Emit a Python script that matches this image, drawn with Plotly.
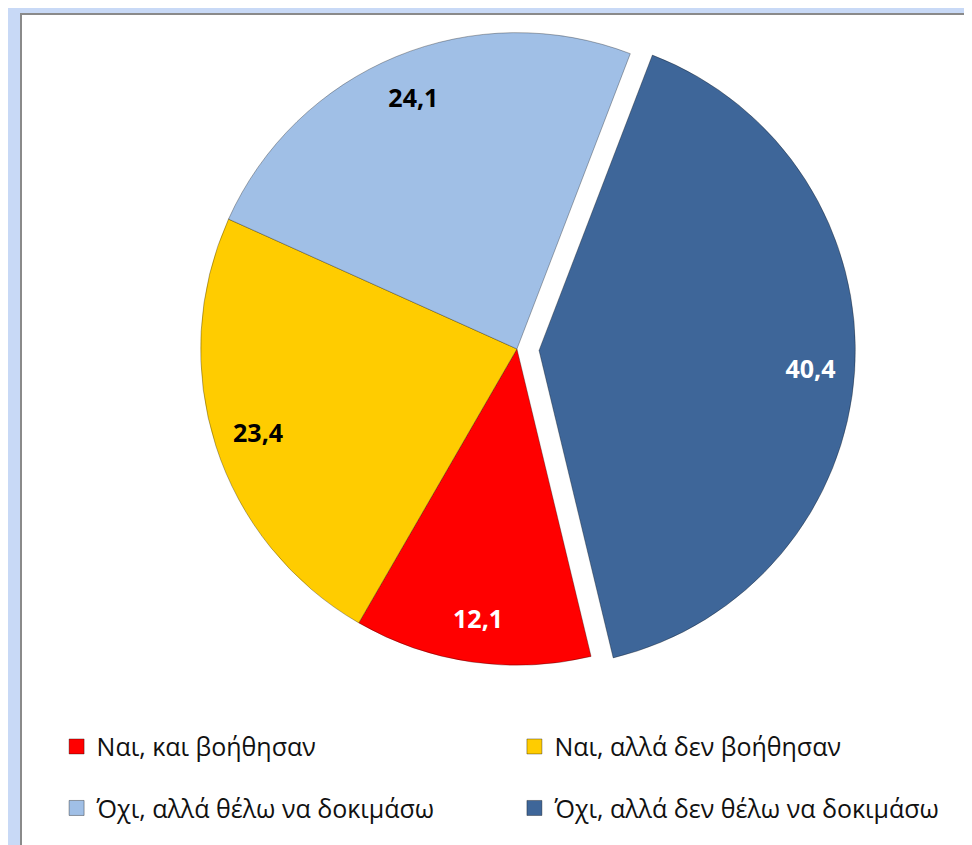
import plotly.graph_objects as go

# data
labels = ["Ναι, και βοήθησαν", "Ναι, αλλά δεν βοήθησαν",
          "Όχι, αλλά θέλω να δοκιμάσω", "Όχι, αλλά δεν θέλω να δοκιμάσω"]
values = [12.1, 23.4, 24.1, 40.4]
value_text = ["12,1", "23,4", "24,1", "40,4"]
colors = ["#ff0000", "#ffcc00", "#a0bfe6", "#3e6699"]
text_colors = ["white", "black", "black", "white"]
pulls = [0, 0, 0, 0.07]

FONT = "Open Sans"
rotation = 21 + 360 * values[3] / sum(values)
domain = dict(x=[0.1754, 0.8718], y=[0.1959, 0.9971])

fig = go.Figure()

# the pie itself
fig.add_trace(go.Pie(
    labels=labels, values=values, sort=False, direction="clockwise",
    rotation=rotation, pull=pulls, domain=domain,
    marker=dict(colors=colors, line=dict(color="rgba(0,0,0,0.3)", width=1)),
    textinfo="none", showlegend=False, hoverinfo="label+value",
))

# transparent ring used only to place the value labels near the rim
fig.add_trace(go.Pie(
    labels=labels, values=values, sort=False, direction="clockwise",
    rotation=rotation, pull=pulls, domain=domain, hole=0.72,
    marker=dict(colors=["rgba(0,0,0,0)"] * 4, line=dict(width=0)),
    text=value_text, textinfo="text", textposition="inside",
    insidetextorientation="horizontal",
    insidetextfont=dict(family=FONT, size=25, color=text_colors, weight="bold"),
    showlegend=False, hoverinfo="skip",
))

# legend entries, two columns
legend_of = ["legend", "legend2", "legend", "legend2"]
for i, lab in enumerate(labels):
    fig.add_trace(go.Scatter(
        x=[None], y=[None], mode="markers", name=lab,
        marker=dict(symbol="square", size=15, color=colors[i],
                    line=dict(color="rgba(0,0,0,0.35)", width=1)),
        legend=legend_of[i], legendgroup=f"g{i}",
    ))

leg_common = dict(orientation="v", yanchor="top", y=0.153, bgcolor="rgba(0,0,0,0)",
                  font=dict(family=FONT, size=25, color="#111111"),
                  tracegroupgap=26, itemwidth=30)

fig.update_layout(
    width=972, height=845, autosize=False,
    margin=dict(l=0, r=0, t=0, b=0),
    paper_bgcolor="#c8d9f6", plot_bgcolor="rgba(0,0,0,0)",
    xaxis=dict(visible=False), yaxis=dict(visible=False),
    legend=dict(x=0.050, **leg_common),
    legend2=dict(x=0.521, **leg_common),
    shapes=[dict(type="rect", xref="paper", yref="paper",
                 x0=13 / 972, x1=1.05, y0=-0.05, y1=(845 - 6) / 845,
                 fillcolor="white", line=dict(color="#8a8a8a", width=2),
                 layer="below")],
)

fig.write_html("out.html")
